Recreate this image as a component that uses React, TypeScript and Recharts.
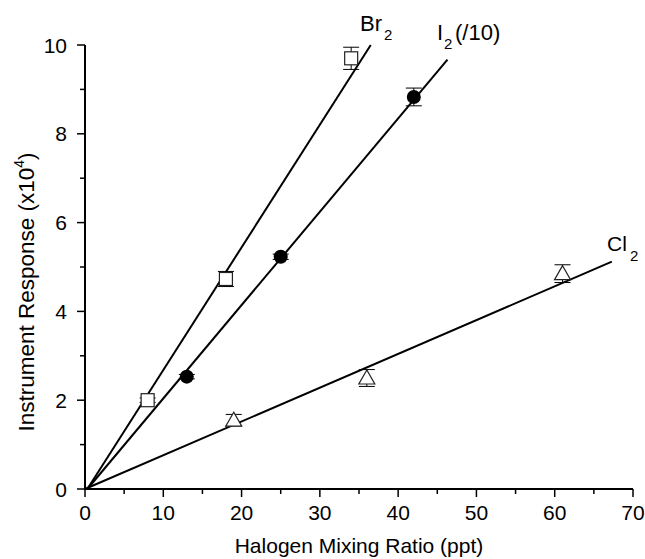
import { ScatterChart, Scatter, XAxis, YAxis, ErrorBar } from "recharts";

// measured points (x = ppt, y = response x10^4, err = +/- bar)
const brPoints = [
  { x: 8, y: 2.0, err: 0.05 },
  { x: 18, y: 4.73, err: 0.17 },
  { x: 34, y: 9.7, err: 0.25 },
];
const i2Points = [
  { x: 13, y: 2.53, err: 0.05 },
  { x: 25, y: 5.23, err: 0.06 },
  { x: 42, y: 8.83, err: 0.2 },
];
const clPoints = [
  { x: 19, y: 1.55, err: 0.13 },
  { x: 36, y: 2.5, err: 0.19 },
  { x: 61, y: 4.85, err: 0.2 },
];

// fitted lines, endpoints
const brFit = [
  { x: 0.3, y: 0 },
  { x: 36.5, y: 10 },
];
const i2Fit = [
  { x: 0.3, y: 0 },
  { x: 46.3, y: 9.67 },
];
const clFit = [
  { x: 0, y: 0 },
  { x: 67.3, y: 5.12 },
];

const xTicks = [0, 5, 10, 15, 20, 25, 30, 35, 40, 45, 50, 55, 60, 65, 70];
const yTicks = [0, 1, 2, 3, 4, 5, 6, 7, 8, 9, 10];

const FONT = "'Liberation Sans', Arial, sans-serif";

const XTick = (props: any) => {
  const { x, y, payload } = props;
  const major = payload.value % 10 === 0;
  return (
    <g>
      <line x1={x} x2={x} y1={y} y2={y + (major ? 8 : 5)} stroke="#000" strokeWidth={1.5} />
      {major && (
        <text x={x} y={y + 31} textAnchor="middle" fontSize={21} fontFamily={FONT} fill="#000">
          {payload.value}
        </text>
      )}
    </g>
  );
};

const YTick = (props: any) => {
  const { x, y, payload } = props;
  const major = payload.value % 2 === 0;
  return (
    <g>
      <line x1={x - (major ? 8 : 5)} x2={x} y1={y} y2={y} stroke="#000" strokeWidth={1.5} />
      {major && (
        <text x={x - 18} y={y + 7.5} textAnchor="end" fontSize={21} fontFamily={FONT} fill="#000">
          {payload.value}
        </text>
      )}
    </g>
  );
};

const Square = (props: any) => {
  const { cx, cy } = props;
  return <rect x={cx - 6.5} y={cy - 6.5} width={13} height={13} fill="#fff" stroke="#222" strokeWidth={1.2} />;
};

const Dot = (props: any) => {
  const { cx, cy } = props;
  return <circle cx={cx} cy={cy} r={7} fill="#000" />;
};

const Triangle = (props: any) => {
  const { cx, cy } = props;
  return (
    <polygon
      points={`${cx},${cy - 8} ${cx - 8},${cy + 6} ${cx + 8},${cy + 6}`}
      fill="#fff"
      stroke="#222"
      strokeWidth={1.2}
    />
  );
};

const NoMark = () => <g />;

const lineStyle = { stroke: "#000", strokeWidth: 2 };

export default function App() {
  return (
    <div style={{ position: "absolute", left: 0, top: 0, background: "#fff" }}>
      <ScatterChart width={645} height={559} margin={{ top: 45, right: 12, left: 0, bottom: 0 }}>
        <XAxis
          type="number"
          dataKey="x"
          domain={[0, 70]}
          ticks={xTicks}
          interval={0}
          tick={<XTick />}
          tickLine={false}
          tickSize={0}
          tickMargin={0}
          height={70}
          axisLine={{ stroke: "#000", strokeWidth: 2 }}
        />
        <YAxis
          type="number"
          dataKey="y"
          domain={[0, 10]}
          ticks={yTicks}
          interval={0}
          tick={<YTick />}
          tickLine={false}
          tickSize={0}
          tickMargin={0}
          width={85}
          axisLine={{ stroke: "#000", strokeWidth: 2 }}
        />
        <Scatter data={brFit} shape={<NoMark />} line={lineStyle} isAnimationActive={false} />
        <Scatter data={i2Fit} shape={<NoMark />} line={lineStyle} isAnimationActive={false} />
        <Scatter data={clFit} shape={<NoMark />} line={lineStyle} isAnimationActive={false} />

        {/* error bars first so the markers sit on top of them */}
        <Scatter data={brPoints} shape={<NoMark />} isAnimationActive={false}>
          <ErrorBar dataKey="err" direction="y" width={8} stroke="#000" strokeWidth={1} />
        </Scatter>
        <Scatter data={i2Points} shape={<NoMark />} isAnimationActive={false}>
          <ErrorBar dataKey="err" direction="y" width={8} stroke="#000" strokeWidth={1} />
        </Scatter>
        <Scatter data={clPoints} shape={<NoMark />} isAnimationActive={false}>
          <ErrorBar dataKey="err" direction="y" width={8} stroke="#000" strokeWidth={1} />
        </Scatter>

        <Scatter data={brPoints} shape={<Square />} isAnimationActive={false} />
        <Scatter data={i2Points} shape={<Dot />} isAnimationActive={false} />
        <Scatter data={clPoints} shape={<Triangle />} isAnimationActive={false} />

        <text x={359} y={553} textAnchor="middle" fontSize={21} fontFamily={FONT} fill="#000">
          Halogen Mixing Ratio (ppt)
        </text>
        <text
          x={26}
          y={299.5}
          textAnchor="middle"
          fontSize={22.5}
          fontFamily={FONT}
          fill="#000"
          transform="rotate(-90, 26, 292)"
        >
          Instrument Response (x10
          <tspan dy={-10} fontSize={14}>4</tspan>
          <tspan dy={10}>)</tspan>
        </text>

        <g fontFamily={FONT} fill="#000">
          <text x={360} y={31} fontSize={22}>Br</text>
          <text x={384} y={40} fontSize={15}>2</text>
          <text x={437} y={40} fontSize={22}>I</text>
          <text x={444} y={49} fontSize={15}>2</text>
          <text x={455} y={40} fontSize={22}>(/10)</text>
          <text x={607} y={251} fontSize={21}>Cl</text>
          <text x={630} y={261} fontSize={15}>2</text>
        </g>
      </ScatterChart>
    </div>
  );
}
